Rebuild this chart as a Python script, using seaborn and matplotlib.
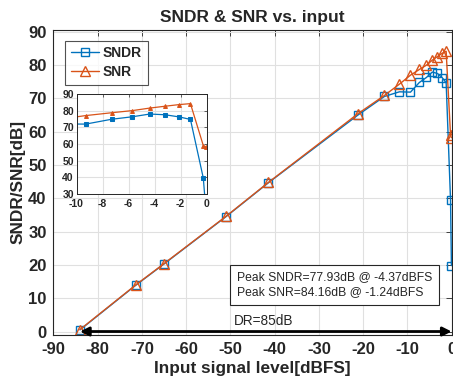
import numpy as np
import pandas as pd
import seaborn as sns
import matplotlib.pyplot as plt

# values
x_dbfs = [-84, -71.3, -65.1, -51, -41.4, -21.2, -15.2, -11.8, -9.3, -7.3, -5.7,
          -4.37, -3.2, -2.1, -1.24, -0.25, -0.05]
sndr = [0.5, 14.0, 20.2, 34.5, 44.7, 65.0, 70.6, 72.0, 71.9, 74.8, 76.3,
        77.93, 77.5, 76.2, 74.7, 39.5, 19.8]
snr = [0.6, 14.1, 20.3, 34.6, 44.8, 65.4, 70.9, 74.3, 77.0, 78.7, 80.0,
       81.5, 82.6, 83.6, 84.16, 59.0, 58.2]
x_ticks = [-90, -80, -70, -60, -50, -40, -30, -20, -10, 0]
y_ticks = [0, 10, 20, 30, 40, 50, 60, 70, 80, 90]
inset_x_ticks = [-10, -8, -6, -4, -2, 0]
inset_y_ticks = [30, 40, 50, 60, 70, 80, 90]

df = pd.DataFrame({"x": x_dbfs, "SNDR": sndr, "SNR": snr})

blue = "#0072BD"
orange = "#D95319"

sns.set_style("whitegrid", {"grid.color": "#e0e0e0", "axes.edgecolor": "#262626"})
plt.rcParams['font.family'] = ['Liberation Sans', 'DejaVu Sans']
plt.rcParams['axes.unicode_minus'] = False

fig = plt.figure(figsize=(4.53, 3.88), dpi=100)
ax = fig.add_axes([0.118, 0.137, 0.879, 0.786])

sns.lineplot(data=df, x="x", y="SNDR", ax=ax, color=blue, lw=1, marker="s",
             markersize=6, markerfacecolor="none", markeredgecolor=blue,
             markeredgewidth=1, sort=False, label="SNDR")
sns.lineplot(data=df, x="x", y="SNR", ax=ax, color=orange, lw=1, marker="^",
             markersize=7, markerfacecolor="none", markeredgecolor=orange,
             markeredgewidth=1, sort=False, label="SNR")

ax.set_xlim(-90, 0)
ax.set_ylim(-1, 90.6)
ax.set_xticks(x_ticks)
ax.set_yticks(y_ticks)
ax.tick_params(direction="in", top=True, right=True, length=4, width=0.6,
               color="#262626", labelsize=12, pad=5)
for lab in ax.get_xticklabels() + ax.get_yticklabels():
    lab.set_fontweight("bold")
for s in ax.spines.values():
    s.set_linewidth(0.8)
ax.set_xlabel("Input signal level[dBFS]", fontsize=12.4, fontweight="bold", labelpad=3)
ax.set_ylabel("SNDR/SNR[dB]", fontsize=12.4, fontweight="bold", labelpad=2)
ax.set_title("SNDR & SNR vs. input", fontsize=12.5, fontweight="bold", pad=6)

leg = ax.legend(loc="upper left", bbox_to_anchor=(0.03, 0.965), borderaxespad=0,
                prop={"weight": "bold", "size": 10}, frameon=True, fancybox=False,
                handlelength=2.0, handletextpad=0.3, borderpad=0.4, labelspacing=0.35)
leg.get_frame().set_edgecolor("#262626")
leg.get_frame().set_linewidth(0.8)

ax.text(-48.6, 14.1, "Peak SNDR=77.93dB @ -4.37dBFS\nPeak SNR=84.16dB @ -1.24dBFS",
        fontsize=8.7, va="center", ha="left", linespacing=1.3,
        bbox=dict(boxstyle="square,pad=0.55", fc="white", ec="#262626", lw=0.8))
ax.text(-49.3, 3.2, "DR=85dB", fontsize=9.8, va="center", ha="left")
ax.annotate("", xy=(0, 0), xytext=(-84, 0),
            arrowprops=dict(arrowstyle="<|-|>", color="black", lw=2,
                            mutation_scale=13, shrinkA=0, shrinkB=0))

# zoomed inset near full scale
ins = fig.add_axes([0.169, 0.5, 0.287, 0.258])
sns.lineplot(data=df, x="x", y="SNDR", ax=ins, color=blue, lw=0.9, marker="s",
             markersize=2.2, markeredgecolor=blue, sort=False, legend=False)
sns.lineplot(data=df, x="x", y="SNR", ax=ins, color=orange, lw=0.9, marker="^",
             markersize=2.8, markeredgecolor=orange, sort=False, legend=False)
ins.set_xlim(-10, 0)
ins.set_ylim(30, 90)
ins.set_xticks(inset_x_ticks)
ins.set_yticks(inset_y_ticks)
ins.set_xlabel("")
ins.set_ylabel("")
ins.tick_params(direction="in", top=True, right=True, length=2.5, width=0.5,
                color="#262626", labelsize=7.5, pad=2)
ins.tick_params(axis="x", pad=3.5)
for lab in ins.get_xticklabels() + ins.get_yticklabels():
    lab.set_fontweight("bold")
for s in ins.spines.values():
    s.set_linewidth(0.7)

fig.savefig("out.png", dpi=100)
